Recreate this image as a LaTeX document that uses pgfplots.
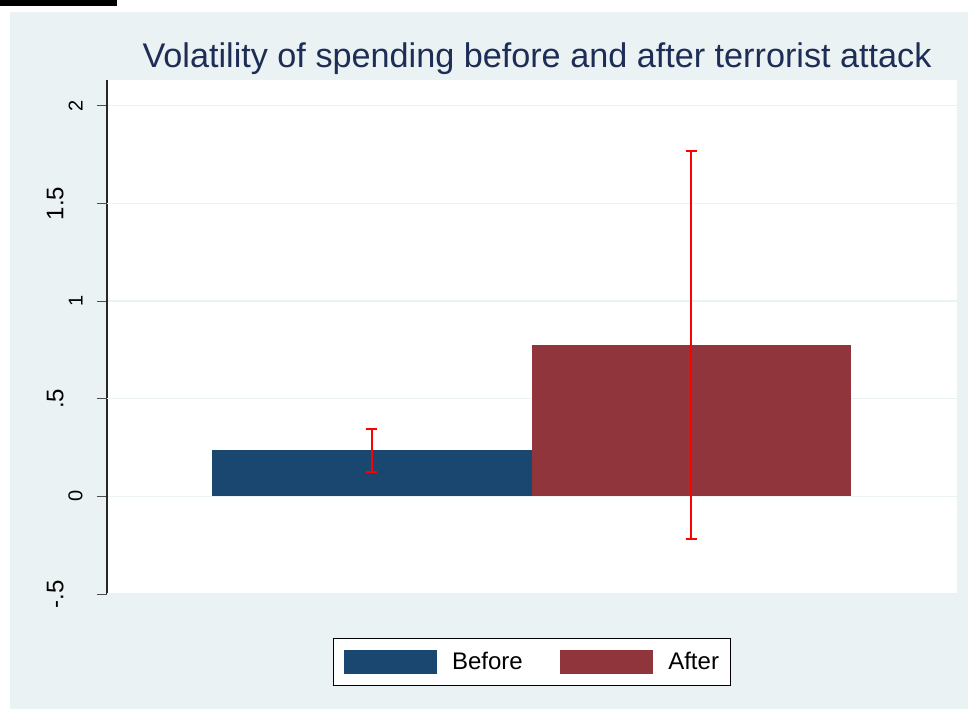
\documentclass[border=0pt]{standalone}
\usepackage{fontspec}
\setmainfont{Liberation Sans}
\usepackage{pgfplots}
\pgfplotsset{compat=1.18}
\definecolor{bgc}{RGB}{234,242,243}
\definecolor{navy}{RGB}{26,71,111}
\definecolor{maroon}{RGB}{144,53,59}
\definecolor{titlec}{RGB}{30,45,85}
\begin{document}
\begin{tikzpicture}
\useasboundingbox (0,0) rectangle (484pt,354.5pt);
\fill[white] (0,0) rectangle (484pt,354.5pt);
\fill[bgc] (5pt,0) rectangle (484pt,348.5pt);
\fill[black] (0,351.5pt) rectangle (58.5pt,354.5pt);
\begin{axis}[
  at={(53.5pt,57.5pt)}, anchor=south west,
  width=425pt, height=257pt, scale only axis,
  xmin=0.173, xmax=2.83, ymin=-0.5, ymax=2.132,
  axis x line*=bottom, axis y line*=left,
  axis line style={line width=0.7pt, black!85, -},
  axis background/.style={fill=white},
  xtick=\empty,
  ytick={0,1,2}, yticklabels={0,1,2},
  extra y ticks={-0.5,0.5,1.5}, extra y tick labels={-.5,.5,1.5},
  tick align=outside, major tick length=5pt,
  tick style={line width=0.5pt, black!70},
  ymajorgrids, grid style={line width=0.6pt, bgc},
  yticklabel style={rotate=90, anchor=south, inner sep=0pt,
    font=\fontsize{10}{10}\selectfont, yshift=7pt},
  extra y tick style={grid=major, tick style={line width=0.5pt, black!70},
    yticklabel style={font=\fontsize{12}{12}\selectfont, yshift=9.5pt}},
  title={Volatility of spending before and after terrorist attack},
  title style={at={(0.5059,1.0253)}, anchor=base, inner sep=0pt, yshift=-6pt,
    font=\fontsize{17.1}{17.1}\selectfont, text=titlec},
  legend columns=2,
  legend style={at={(0.4994,-0.1323)}, anchor=center, draw=black,
    line width=0.5pt, fill=white, inner sep=5.5pt,
    font=\fontsize{12}{12}\selectfont,
    nodes={inner sep=0pt},
    /tikz/every odd column/.append style={column sep=7.5pt},
    /tikz/every even column/.append style={column sep=18.8pt}},
  legend image code/.code={\fill[#1] (0pt,-6.1pt) rectangle (46.5pt,6.1pt);},
]
\addplot[ybar, bar width=1, bar shift=0pt, fill=navy, draw=none,
  error bars/.cd, y dir=both, y explicit,
  error bar style={red, line width=1pt},
  error mark options={red, line width=1pt, mark size=2.75pt, rotate=90}]
  coordinates {(1,0.235) +- (0,0.11)};
\addlegendentry{Before}
\addplot[ybar, bar width=1, bar shift=0pt, fill=maroon, draw=none,
  error bars/.cd, y dir=both, y explicit,
  error bar style={red, line width=1pt},
  error mark options={red, line width=1pt, mark size=2.75pt, rotate=90}]
  coordinates {(2,0.775) +- (0,0.993)};
\addlegendentry{After}
\end{axis}
\end{tikzpicture}
\end{document}
